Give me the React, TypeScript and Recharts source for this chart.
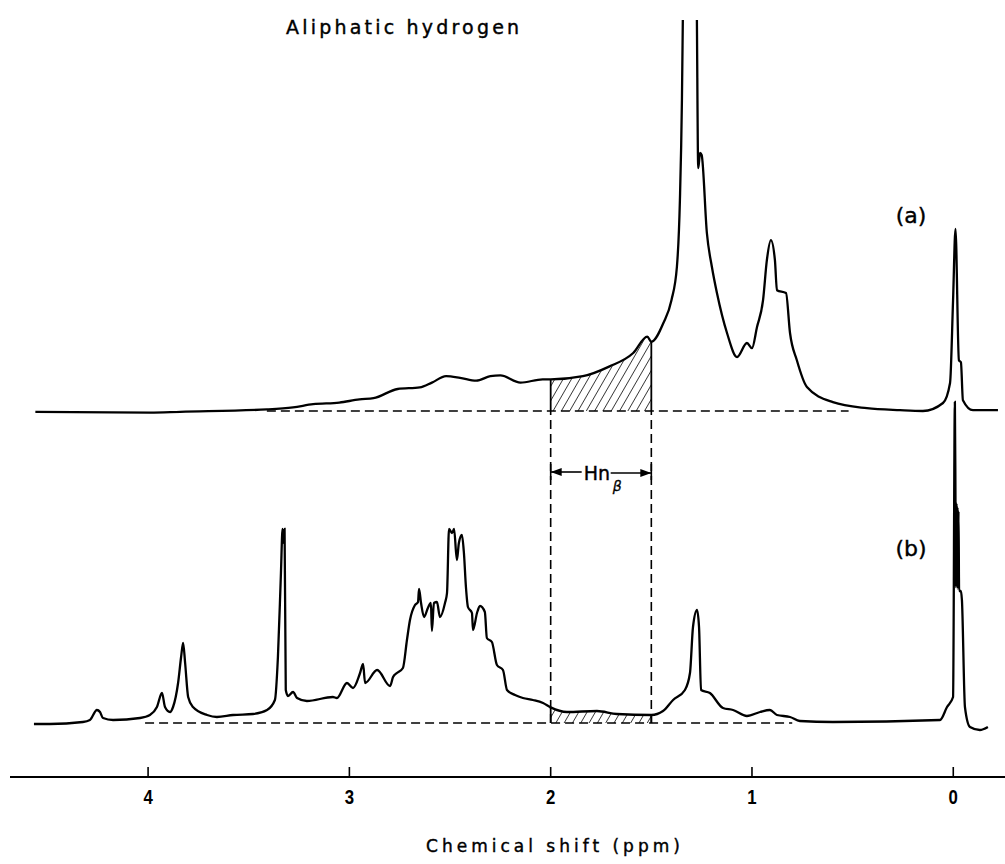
import React from "react";
import { ComposedChart, Line, Area, XAxis, YAxis, ReferenceLine } from "recharts";

// spectrum (a): chemical shift (ppm) and intensity above its own baseline
const shiftA = [
  4.56, 3.99, 3.84, 3.41, 3.28, 3.18, 3.05, 2.95, 2.88, 2.76,
  2.65, 2.59, 2.52, 2.45, 2.37, 2.3, 2.25, 2.15, 2.04, 2.0,
  1.84, 1.71, 1.59, 1.52, 1.5, 1.44, 1.4, 1.373, 1.358, 1.348,
  1.343, 1.31, 1.274, 1.267, 1.258, 1.25, 1.224, 1.199, 1.174, 1.124,
  1.074, 1.025, 1.0, 0.975, 0.945, 0.926, 0.906, 0.886, 0.876, 0.831,
  0.811, 0.777, 0.727, 0.598, 0.429, 0.265, 0.151, 0.051, 0.016, 0.001,
  -0.011, -0.028, -0.038, -0.048, -0.098, -0.222,
];
const intensityA = [
  -0.2, -0.4, -0.2, 0.4, 0.9, 1.7, 2.1, 2.9, 3.2, 5.5,
  5.9, 7.1, 8.7, 8.3, 7.6, 8.7, 8.9, 7.1, 7.9, 7.9,
  8.7, 11.1, 14.5, 18.6, 17.3, 22, 27.7, 36, 52.7, 77.7,
  100, 220, 100, 60.7, 64.5, 64, 44.5, 36, 29.5, 19.5,
  13.5, 17, 15.7, 21, 27.7, 37.7, 42.7, 37.7, 30.2, 29.5,
  19.5, 12.7, 6, 2.2, 0.7, 0.2, 0, 2, 7, 27.7,
  45.5, 12.7, 12.2, 2.7, 0.2, 0.2,
];

// spectrum (b)
const shiftB = [
  4.567, 4.488, 4.324, 4.289, 4.254, 4.239, 4.224, 4.174, 4.04, 3.991,
  3.956, 3.931, 3.916, 3.891, 3.876, 3.851, 3.836, 3.826, 3.816, 3.801,
  3.777, 3.707, 3.658, 3.578, 3.479, 3.409, 3.37, 3.355, 3.34, 3.332,
  3.327, 3.322, 3.316, 3.305, 3.28, 3.26, 3.211, 3.082, 3.062, 3.012,
  2.982, 2.947, 2.932, 2.922, 2.862, 2.798, 2.783, 2.764, 2.734, 2.714,
  2.699, 2.674, 2.659, 2.654, 2.644, 2.629, 2.61, 2.595, 2.59, 2.58,
  2.565, 2.55, 2.525, 2.515, 2.505, 2.49, 2.48, 2.466, 2.456, 2.441,
  2.431, 2.421, 2.411, 2.391, 2.386, 2.366, 2.351, 2.327, 2.317, 2.292,
  2.267, 2.237, 2.217, 2.177, 2.138, 2.088, 2.038, 2.0, 1.919, 1.77,
  1.671, 1.5, 1.442, 1.392, 1.333, 1.308, 1.293, 1.273, 1.263, 1.253,
  1.209, 1.144, 1.094, 1.025, 0.96, 0.911, 0.876, 0.811, 0.762, 0.598,
  0.066, 0.031, 0.001, -0.008, -0.011, -0.013, -0.016, -0.018, -0.021, -0.023,
  -0.026, -0.029, -0.038, -0.043, -0.058, -0.083, -0.132, -0.172,
];
const intensityB = [
  -0.25, -0.25, 0.25, 0.75, 3.25, 2.75, 1.25, 0.75, 1.25, 2,
  4, 7.5, 4, 2.75, 4, 10, 16.5, 20, 15, 6.5,
  4, 2, 1.5, 2, 2.25, 3.25, 5.75, 16.5, 37.5, 48.5,
  45, 48.5, 8.25, 6.75, 7.75, 6.25, 5.5, 6.5, 6.25, 10,
  8.75, 12.5, 14.75, 10, 13.25, 9.25, 11.5, 12.5, 13.75, 20.75,
  25.75, 29.5, 30.25, 33.5, 30, 26.5, 28.75, 30, 23, 30,
  30.25, 26.5, 30, 32.5, 48.5, 47.5, 48.5, 40.75, 45, 47,
  42.5, 34, 29, 27.5, 23.25, 27.5, 29.25, 27.75, 21.25, 20.25,
  14.5, 13.25, 8.25, 7, 6.25, 5.75, 5, 3.9, 2.75, 3,
  2.25, 2, 3, 5.75, 8.25, 12.5, 24, 28.25, 24, 8.25,
  7.5, 3.75, 3.25, 1.75, 2.75, 3.25, 2, 1.5, 0.5, 0.25,
  0.75, 4, 6.5, 80.25, 55.75, 34, 55, 34, 54, 33.5,
  53, 33, 33, 30.75, 4, -1, -1.75, -1,
];

const ppmTicks = [4, 3, 2, 1, 0];
const offsetA = 78; // spectrum (a) is stacked above (b)
const baselineA = [3.41, 0.52];
const baselineB = [4.015, 0.8];
const hatchRange = [2.0, 1.5];
const arrowLevel = 62.75;

const toRows = (xs: number[], ys: number[], off: number) =>
  xs.map((x, i) => ({ ppm: x, v: ys[i] + off }));
const rowsA = toRows(shiftA, intensityA, offsetA);
const rowsB = toRows(shiftB, intensityB, 0);
const inHatch = (r: { ppm: number }) => r.ppm <= hatchRange[0] && r.ppm >= hatchRange[1];
const hatchA = rowsA.filter(inHatch);
const hatchB = rowsB.filter(inHatch);
const at = (rows: { ppm: number; v: number }[], p: number) =>
  rows.find((r) => r.ppm === p)?.v ?? 0;

const FONT = "'DejaVu Sans', 'Liberation Sans', sans-serif";

// eslint-disable-next-line @typescript-eslint/no-explicit-any
function PpmTick({ x, y, payload }: any) {
  return (
    <g>
      <line x1={x} x2={x} y1={y - 10} y2={y} stroke="#000" strokeWidth={1.6} />
      <text
        transform={`translate(${x},${y + 27}) scale(0.8,1)`}
        textAnchor="middle"
        fontFamily="'Liberation Sans', Arial, sans-serif"
        fontWeight="bold"
        fontSize={21}
        fill="#000"
      >
        {payload.value}
      </text>
    </g>
  );
}

// eslint-disable-next-line @typescript-eslint/no-explicit-any
function HnBetaArrow({ x1, y1, x2 }: any) {
  const L = Math.min(x1, x2);
  const R = Math.max(x1, x2);
  const y = y1;
  return (
    <g stroke="#000" fill="#000">
      <line x1={L} x2={L} y1={y - 8} y2={y + 8} strokeWidth={1.6} />
      <line x1={R} x2={R} y1={y - 8} y2={y + 8} strokeWidth={1.6} />
      <line x1={L} x2={L + 31} y1={y} y2={y} strokeWidth={1.6} />
      <polygon points={`${L},${y} ${L + 11},${y - 4} ${L + 11},${y + 4}`} stroke="none" />
      <line x1={L + 60} x2={R} y1={y + 1} y2={y + 1} strokeWidth={1.6} />
      <polygon points={`${R},${y + 1} ${R - 11},${y - 3} ${R - 11},${y + 5}`} stroke="none" />
      <text x={L + 33} y={y + 8} fontFamily={FONT} fontSize={19} strokeWidth={0.4}>
        Hn
      </text>
      <text x={L + 62} y={y + 19} fontFamily={FONT} fontSize={14} fontStyle="italic" strokeWidth={0.3}>
        β
      </text>
    </g>
  );
}

export default function App() {
  return (
    <div style={{ position: "absolute", left: 0, top: 0, background: "#fff" }}>
      <ComposedChart width={1005} height={864} margin={{ top: 20, right: 0, bottom: 0, left: 10 }}>
        <defs>
          <pattern
            id="hatch"
            width="7.2"
            height="7.2"
            patternUnits="userSpaceOnUse"
            patternTransform="rotate(30)"
          >
            <line x1="0" y1="0" x2="0" y2="7.2" stroke="#000" strokeWidth="1.4" />
          </pattern>
        </defs>
        <XAxis
          dataKey="ppm"
          type="number"
          domain={[-0.257, 4.686]}
          reversed
          allowDataOverflow
          ticks={ppmTicks}
          interval={0}
          tick={<PpmTick />}
          tickLine={false}
          tickSize={0}
          tickMargin={0}
          axisLine={{ stroke: "#000", strokeWidth: 2 }}
          height={87}
        />
        <YAxis hide type="number" domain={[-13.5, 175.75]} allowDataOverflow />

        <Area
          data={hatchA}
          dataKey="v"
          type="monotoneX"
          baseValue={offsetA}
          stroke="none"
          fill="url(#hatch)"
          fillOpacity={1}
          isAnimationActive={false}
        />
        <Area
          data={hatchB}
          dataKey="v"
          type="monotoneX"
          baseValue={0}
          stroke="none"
          fill="url(#hatch)"
          fillOpacity={1}
          isAnimationActive={false}
        />

        <ReferenceLine
          segment={[{ x: baselineA[0], y: offsetA }, { x: baselineA[1], y: offsetA }]}
          stroke="#000"
          strokeWidth={1.6}
          strokeDasharray="9 5"
        />
        <ReferenceLine
          segment={[{ x: baselineB[0], y: 0 }, { x: baselineB[1], y: 0 }]}
          stroke="#000"
          strokeWidth={1.6}
          strokeDasharray="9 5"
        />
        {hatchRange.map((p) => (
          <ReferenceLine
            key={`v${p}`}
            segment={[{ x: p, y: 0 }, { x: p, y: offsetA }]}
            stroke="#000"
            strokeWidth={1.6}
            strokeDasharray="9 5"
          />
        ))}
        {hatchRange.map((p) => (
          <ReferenceLine
            key={`ea${p}`}
            segment={[{ x: p, y: offsetA }, { x: p, y: at(rowsA, p) }]}
            stroke="#000"
            strokeWidth={1.8}
          />
        ))}
        {hatchRange.map((p) => (
          <ReferenceLine
            key={`eb${p}`}
            segment={[{ x: p, y: 0 }, { x: p, y: at(rowsB, p) }]}
            stroke="#000"
            strokeWidth={1.8}
          />
        ))}
        <ReferenceLine
          segment={[{ x: hatchRange[0], y: arrowLevel }, { x: hatchRange[1], y: arrowLevel }]}
          shape={HnBetaArrow}
        />

        <Line
          data={rowsA}
          dataKey="v"
          type="monotoneX"
          stroke="#000"
          strokeWidth={2.3}
          dot={false}
          isAnimationActive={false}
        />
        <Line
          data={rowsB}
          dataKey="v"
          type="monotoneX"
          stroke="#000"
          strokeWidth={2.3}
          dot={false}
          isAnimationActive={false}
        />

        <text x={286} y={34} fontFamily={FONT} fontSize={19} letterSpacing={3.2} fill="#000" stroke="#000" strokeWidth={0.4}>
          Aliphatic hydrogen
        </text>
        <text x={911} y={223} textAnchor="middle" fontFamily={FONT} fontSize={22} fill="#000" stroke="#000" strokeWidth={0.4}>
          (a)
        </text>
        <text x={911} y={556} textAnchor="middle" fontFamily={FONT} fontSize={22} fill="#000" stroke="#000" strokeWidth={0.4}>
          (b)
        </text>
        <text x={555} y={852} textAnchor="middle" fontFamily={FONT} fontSize={17} letterSpacing={4} fill="#000" stroke="#000" strokeWidth={0.4}>
          Chemical shift (ppm)
        </text>
      </ComposedChart>
    </div>
  );
}
